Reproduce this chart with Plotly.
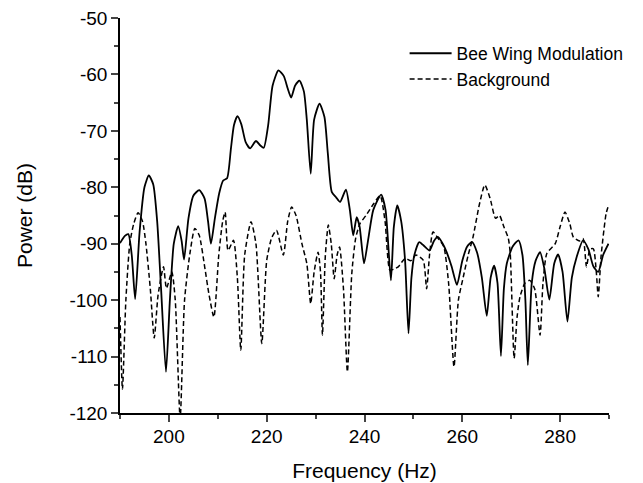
import plotly.graph_objects as go

bee_freq = [190.0, 191.0, 191.7, 192.4, 193.1, 194.0, 195.0, 195.9, 196.8, 197.6, 198.4, 199.4, 200.2, 201.0, 201.9,
            202.6, 203.1, 204.0, 205.0, 206.2, 207.3, 208.0, 208.6, 209.4, 210.3, 211.1, 211.9, 212.7, 213.3, 214.0,
            214.8, 215.7, 216.6, 217.8, 218.7, 219.4, 220.3, 221.2, 222.4, 223.5, 224.3, 225.0, 225.8, 226.7, 227.6,
            228.2, 229.0, 229.7, 230.8, 231.8, 232.5, 233.3, 234.2, 235.0, 236.2, 237.0, 237.7, 238.4, 239.0, 239.9,
            240.8, 241.8, 243.4, 244.3, 245.4, 246.0, 246.7, 247.5, 248.3, 249.0, 249.6, 250.2, 251.2, 252.3, 253.3,
            254.2, 255.0, 256.0, 256.8, 257.8, 258.9, 260.0, 261.0, 262.0, 263.0, 264.0, 265.0, 265.8, 266.5, 267.2,
            267.9, 268.5, 269.1, 270.3, 271.5, 272.3, 272.9, 273.4, 274.2, 275.0, 275.9, 276.8, 277.8, 278.8, 279.6,
            280.5, 281.5, 282.4, 283.4, 284.7, 285.8, 286.8, 287.8, 288.8, 289.9]
bee_power = [-89.9, -88.6, -88.3, -92.0, -99.8, -88.0, -80.0, -77.9, -79.5, -86.0, -98.0, -112.7, -100.0, -90.0, -86.9,
             -89.5, -92.8, -85.5, -81.5, -80.5, -82.0, -86.0, -90.0, -85.5, -81.0, -78.8, -78.4, -73.0, -69.0, -67.4,
             -68.8, -72.0, -73.1, -71.8, -72.6, -73.0, -69.0, -62.0, -59.3, -60.3, -62.5, -64.1, -62.0, -61.1, -63.0,
             -68.0, -77.6, -68.0, -65.2, -67.5, -74.0, -80.8, -81.8, -82.6, -80.4, -84.0, -88.5, -85.3, -87.0, -93.5,
             -89.0, -84.0, -81.3, -84.0, -96.5, -87.0, -83.2, -86.0, -93.0, -105.9, -96.0, -92.0, -89.7, -90.5, -91.2,
             -89.5, -88.8, -90.0, -91.5, -94.0, -97.3, -93.0, -90.5, -89.7, -91.5, -96.0, -102.8, -96.0, -93.9, -97.0,
             -109.9, -98.0, -93.5, -90.5, -89.4, -92.0, -100.0, -111.5, -97.0, -93.0, -91.5, -94.5, -99.9, -93.5, -91.9,
             -95.0, -103.8, -96.0, -92.3, -89.4, -91.0, -94.0, -95.0, -92.0, -90.0]

bg_freq = [190.0, 190.5, 191.2, 192.0, 192.8, 193.7, 194.6, 195.3, 196.2, 197.0, 197.8, 198.9, 199.5, 200.6, 201.3,
           202.3, 203.2, 204.3, 205.3, 206.2, 207.3, 208.2, 209.2, 210.2, 211.0, 211.5, 212.1, 213.2, 214.0, 214.7,
           215.5, 216.8, 217.8, 219.0, 220.0, 221.0, 222.0, 223.4, 224.3, 225.1, 226.0, 227.2, 228.2, 229.0, 229.7,
           230.5, 231.0, 231.4, 232.0, 232.6, 233.2, 233.8, 234.4, 234.9, 235.7, 236.5, 237.4, 238.2, 239.1, 240.3,
           241.8, 243.2, 244.2, 245.2, 246.0, 246.9, 248.3, 249.5, 250.5, 252.0, 252.7, 253.3, 254.0, 255.0, 256.2,
           257.2, 258.3, 259.2, 260.2, 261.2, 262.2, 263.5, 264.6, 265.7, 266.8, 267.6, 268.5, 269.4, 269.8, 270.6,
           271.2, 271.8, 272.8, 273.8, 274.8, 275.9, 276.5, 277.3, 279.0, 280.0, 281.0, 282.0, 282.7, 284.0, 284.7,
           285.4, 286.1, 286.8, 287.4, 287.8, 288.4, 289.4, 289.9]
bg_power = [-103.0, -115.8, -100.0, -90.0, -86.5, -84.5, -86.0, -90.0, -98.0, -106.7, -99.0, -94.1, -97.9, -95.0, -100.0,
            -121.0, -100.0, -91.7, -87.3, -88.5, -94.0, -99.0, -103.0, -92.0, -86.0, -84.4, -91.2, -89.4, -96.0, -108.9,
            -92.0, -86.1, -90.0, -107.7, -93.0, -89.0, -87.6, -92.0, -86.0, -83.5, -85.0, -90.0, -93.5, -100.6, -95.0,
            -91.5, -95.0, -106.2, -92.0, -86.7, -90.0, -96.2, -92.0, -90.6, -98.0, -112.7, -95.3, -89.0, -86.4, -85.0,
            -83.0, -81.5, -86.0, -94.7, -94.5, -94.1, -92.6, -93.0, -92.0, -92.9, -98.0, -92.0, -87.9, -89.0, -90.5,
            -97.0, -111.8, -100.0, -95.9, -92.0, -88.8, -83.0, -79.6, -82.0, -85.5, -85.0, -87.0, -89.0, -91.7, -110.3,
            -103.0, -99.4, -97.0, -96.5, -98.0, -106.2, -97.0, -91.7, -90.0, -87.0, -84.4, -86.5, -88.8, -89.5, -89.1,
            -94.1, -91.0, -90.9, -95.0, -99.4, -92.0, -84.7, -83.2]

x_ticks = [200, 220, 240, 260, 280]
x_tick_labels = ["200", "220", "240", "260", "280"]
y_ticks = [-120, -110, -100, -90, -80, -70, -60, -50]
y_tick_labels = ["-120", "-110", "-100", "-90", "-80", "-70", "-60", "-50"]

FONT = "Liberation Sans, Arial, sans-serif"

fig = go.Figure()
fig.add_trace(go.Scatter(x=bee_freq, y=bee_power, mode="lines", name="Bee Wing Modulation",
                         line=dict(color="black", width=1.8, shape="spline", smoothing=0.6)))
fig.add_trace(go.Scatter(x=bg_freq, y=bg_power, mode="lines", name="Background",
                         line=dict(color="black", width=1.5, dash="5px,3px", shape="spline", smoothing=0.6)))

fig.update_layout(
    width=635, height=475,
    margin=dict(l=112, r=34, t=9.5, b=70, pad=0, autoexpand=False),
    paper_bgcolor="white", plot_bgcolor="white",
    font=dict(family=FONT, color="black", size=19),
    showlegend=True,
    legend=dict(x=0.582, y=0.956, xanchor="left", yanchor="top", bgcolor="rgba(0,0,0,0)",
                font=dict(size=17.5, family=FONT), itemwidth=42, tracegroupgap=0),
    xaxis=dict(range=[190, 290], tickvals=x_ticks, ticktext=x_tick_labels, ticks="outside", ticklen=7,
               tickwidth=1.5, ticklabelstandoff=-2, automargin=False, ticklabeloverflow="allow",
               showline=True, linecolor="black", linewidth=1.5, showgrid=False, zeroline=False,
               minor=dict(dtick=10, tick0=190, ticks="outside", ticklen=4, tickwidth=1.5, showgrid=False),
               tickfont=dict(size=19), title=dict(text="Frequency (Hz)", font=dict(size=21), standoff=18)),
    yaxis=dict(range=[-120, -50], tickvals=y_ticks, ticktext=y_tick_labels, ticks="outside", ticklen=7,
               tickwidth=1.5, ticklabelstandoff=0, automargin=False, ticklabeloverflow="allow",
               showline=True, linecolor="black", linewidth=1.5, showgrid=False, zeroline=False,
               minor=dict(dtick=5, tick0=-120, ticks="outside", ticklen=4, tickwidth=1.5, showgrid=False),
               tickfont=dict(size=19), title=dict(text="Power (dB)", font=dict(size=21), standoff=31)),
)

fig.write_html("out.html")
